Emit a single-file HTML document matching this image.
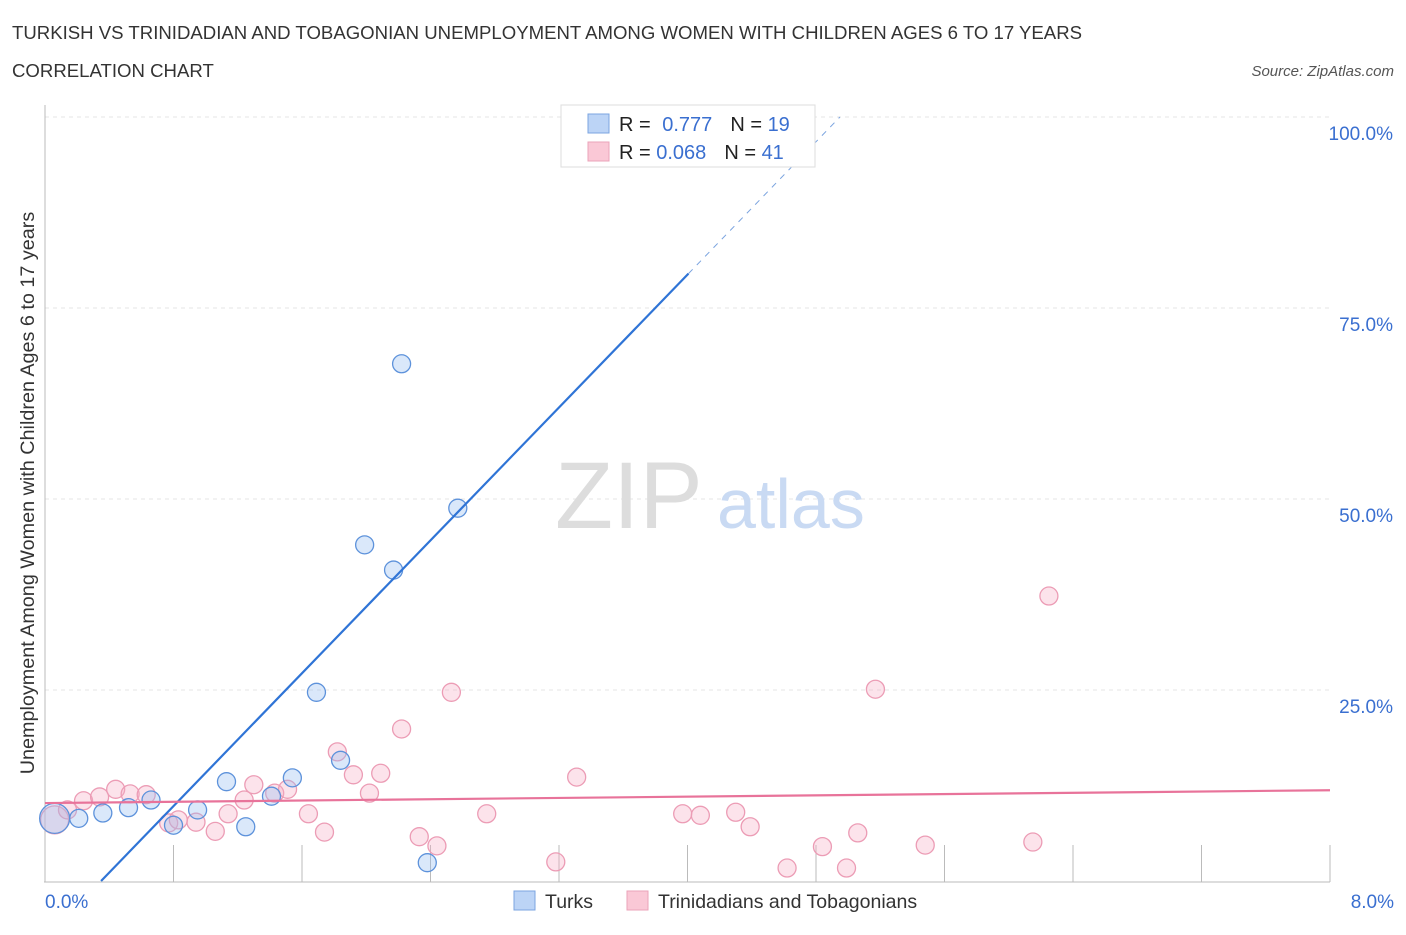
<!DOCTYPE html>
<html><head><meta charset="utf-8">
<style>
body{margin:0;background:#fff;font-family:"Liberation Sans",sans-serif;}
svg text{font-family:"Liberation Sans",sans-serif;}
</style></head>
<body>
<svg id="chart" width="1406" height="930" xmlns="http://www.w3.org/2000/svg">
<text x="12" y="39" font-size="18.6" fill="#333">TURKISH VS TRINIDADIAN AND TOBAGONIAN UNEMPLOYMENT AMONG WOMEN WITH CHILDREN AGES 6 TO 17 YEARS</text>
<text x="12" y="77" font-size="18.6" fill="#333">CORRELATION CHART</text>
<text x="1394" y="76" font-size="15" fill="#555" font-style="italic" text-anchor="end">Source: ZipAtlas.com</text>
<g id="grid"></g>
<text x="555" y="528" font-size="95" fill="#ddd" font-family="Liberation Serif,serif">ZIP</text>
<text x="717" y="528" font-size="70" fill="#c9daf3">atlas</text>
<g id="marks"></g>
<text transform="translate(34,493) rotate(-90)" font-size="19.8" fill="#333" text-anchor="middle">Unemployment Among Women with Children Ages 6 to 17 years</text>
<text x="45" y="908" font-size="19" fill="#3a6fd0">0.0%</text>
<text x="1394" y="908" font-size="19" fill="#3a6fd0" text-anchor="end">8.0%</text>
<g>
<rect x="561" y="105" width="254" height="62" fill="#fff" stroke="#ddd"/>
<rect x="588" y="114" width="21" height="19" fill="#bcd4f6" stroke="#7ba4e0"/>
<rect x="588" y="142" width="21" height="19" fill="#fac8d6" stroke="#eba3b9"/>
<text x="619" y="131" font-size="20" fill="#222">R = <tspan fill="#3a6fd0" dx="6">0.777</tspan><tspan dx="18">N = </tspan><tspan fill="#3a6fd0">19</tspan></text>
<text x="619" y="159" font-size="20" fill="#222">R = <tspan fill="#3a6fd0">0.068</tspan><tspan dx="18">N = </tspan><tspan fill="#3a6fd0">41</tspan></text>
</g>
<rect x="514" y="891" width="21" height="19" fill="#bcd4f6" stroke="#7ba4e0"/>
<text x="545" y="908" font-size="19.5" fill="#333">Turks</text>
<rect x="627" y="891" width="21" height="19" fill="#fac8d6" stroke="#eba3b9"/>
<text x="658" y="908" font-size="19.5" fill="#333">Trinidadians and Tobagonians</text>
</svg>
<script>
const yTicks=[25,50,75,100];
const yTickLabels=["25.0%","50.0%","75.0%","100.0%"];
const xTicks=[0,0.8,1.6,2.4,3.2,4.0,4.8,5.6,6.4,7.2,8.0];
const turksX=[0.06,0.21,0.36,0.52,0.66,0.80,0.95,1.13,1.25,1.41,1.54,1.69,1.84,1.99,2.17,2.22,2.38,2.57,3.56];
const turksY=[8.2,8.2,8.9,9.6,10.6,7.3,9.3,13.0,7.1,11.1,13.5,24.7,15.8,44.0,40.7,67.7,2.4,48.8,100];
const trinX=[0.06,0.14,0.24,0.34,0.44,0.53,0.63,0.77,0.83,0.94,1.06,1.14,1.24,1.30,1.43,1.51,1.64,1.74,1.82,1.92,2.02,2.09,2.22,2.33,2.44,2.53,2.75,3.18,3.31,3.97,4.08,4.30,4.39,4.62,4.84,4.99,5.06,5.17,5.48,6.15,6.25];
const trinY=[8.0,9.3,10.5,11.0,12.0,11.4,11.3,7.6,8.0,7.7,6.5,8.8,10.6,12.6,11.5,12.0,8.8,6.4,16.9,13.9,11.5,14.1,19.9,5.8,4.6,24.7,8.8,2.5,13.6,8.8,8.6,9.0,7.1,1.7,4.5,1.7,6.3,25.1,4.7,5.1,37.3];
const turksTrend=[-7.59,21.74]; // intercept, slope
const trinTrend=[10.2,0.21];

const NS="http://www.w3.org/2000/svg";
const sx=v=>45+v/8*1285;
const sy=v=>881-v/100*764;
function mk(tag,attrs,parent){const e=document.createElementNS(NS,tag);for(const k in attrs)e.setAttribute(k,attrs[k]);parent.appendChild(e);return e;}
const grid=document.getElementById('grid'), marks=document.getElementById('marks');
yTicks.forEach((t,i)=>{
  const l=mk('line',{x1:45,x2:1330,y1:sy(t),y2:sy(t),stroke:'#e4e4e4','stroke-dasharray':'4,4'},grid);
  
  
  const tx=mk('text',{x:1393,y:sy(t)+23,'font-size':19,fill:'#3a6fd0','text-anchor':'end'},grid);
  tx.textContent=yTickLabels[i];
  
  
});
const ax=mk('line',{x1:45,x2:45,y1:105,y2:882,stroke:'#bbb'},grid);


const bx=mk('line',{x1:44,x2:1330,y1:882,y2:882,stroke:'#bbb'},grid);


xTicks.slice(1).forEach(t=>{
  const l=mk('line',{x1:sx(t),x2:sx(t),y1:845,y2:882,stroke:'#bbb'},grid);
  
  
});
function dot(x,y,r,fill,stroke,name){
  const c=mk('circle',{cx:sx(x),cy:sy(y),r:r,fill:fill,stroke:stroke,'stroke-width':1.3},marks);
  
  
}
trinX.forEach((x,i)=>dot(x,trinY[i],i==0?14:9,'rgba(246,175,198,0.35)','#ec9cb5','trinidadian-point'));
turksX.forEach((x,i)=>dot(x,turksY[i],i==0?15:9,'rgba(150,188,240,0.35)','#5d92db','turks-point'));
const tx0=-turksTrend[0]/turksTrend[1], tx1=(79.5-turksTrend[0])/turksTrend[1], tx2=(100-turksTrend[0])/turksTrend[1];
const tl=mk('line',{x1:sx(tx0),y1:sy(0),x2:sx(tx1),y2:sy(79.5),stroke:'#2f74d6','stroke-width':2.2},marks);


const td=mk('line',{x1:sx(tx1),y1:sy(79.5),x2:sx(tx2),y2:sy(100),stroke:'#7aa3df','stroke-width':1,'stroke-dasharray':'6,6'},marks);


const pl=mk('line',{x1:sx(0),y1:sy(trinTrend[0]),x2:sx(8),y2:sy(trinTrend[0]+8*trinTrend[1]),stroke:'#e8739a','stroke-width':2.2},marks);


</script>
</body></html>
